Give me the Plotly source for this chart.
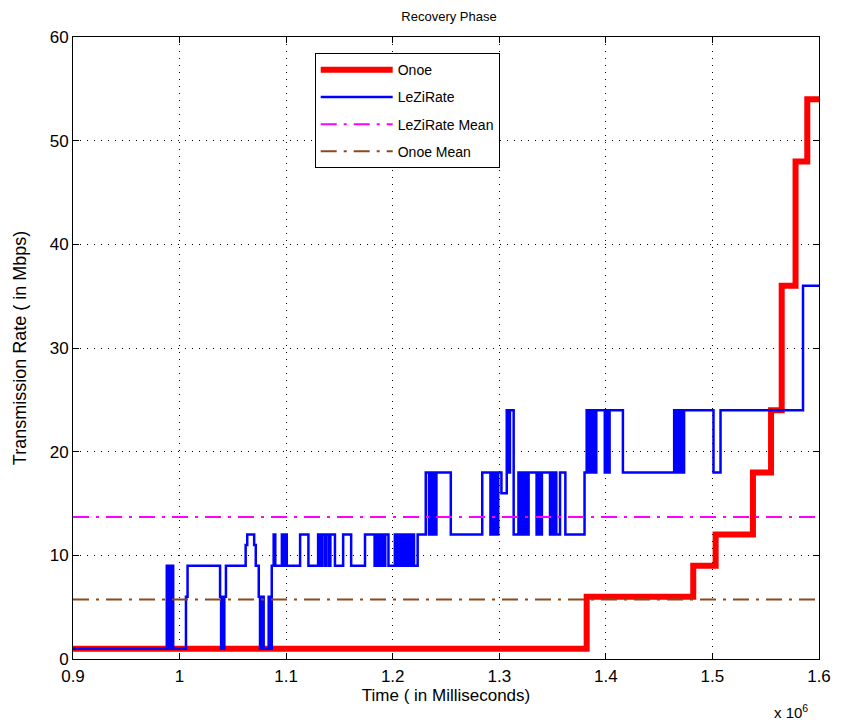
import plotly.graph_objects as go

# Time in units of 10^6 milliseconds
onoe_t = [0.900, 1.382, 1.482, 1.503, 1.538, 1.555, 1.565, 1.578, 1.589, 1.600]
onoe_v = [1, 6, 9, 12, 18, 24, 36, 48, 54, 54]

lezi_t = [0.900, 0.988, 0.990, 0.991, 0.992, 0.993, 0.994,
          1.006, 1.0075, 1.038, 1.0390, 1.0400, 1.0410, 1.0420, 1.0435, 1.045,
          1.062, 1.0635, 1.070, 1.0715, 1.0743, 1.0755, 1.0770, 1.0789, 1.0836,
          1.0850, 1.0865, 1.0883, 1.0898,
          1.0960, 1.0975, 1.0990, 1.1006, 1.1131, 1.1209, 1.1300, 1.1320, 1.1335,
          1.1360, 1.1375, 1.1400, 1.1415, 1.1458, 1.1535, 1.1610, 1.1740, 1.1830,
          1.1850, 1.1870, 1.1890, 1.1910, 1.1930, 1.1960, 1.2000, 1.2020, 1.2040,
          1.2060, 1.2080, 1.2100, 1.2120, 1.2140, 1.2160, 1.2180, 1.2200, 1.2234,
          1.2310, 1.2340, 1.2350, 1.2360, 1.2370, 1.2380, 1.2390, 1.2400, 1.2410,
          1.2545, 1.2840, 1.2917, 1.2930, 1.2945, 1.2960, 1.2975, 1.2990, 1.3020,
          1.3070, 1.3090, 1.3100, 1.3135, 1.3180, 1.3200, 1.3215, 1.3230, 1.3245,
          1.3260, 1.3275, 1.3350, 1.3365, 1.3380, 1.3400, 1.3476, 1.3490, 1.3505,
          1.3520, 1.3535, 1.3570, 1.3620, 1.3800, 1.3820, 1.3835, 1.3850, 1.3865,
          1.3880, 1.3895, 1.3910, 1.3990, 1.4005, 1.4020, 1.4035, 1.4160, 1.4641,
          1.4655, 1.4670, 1.4685, 1.4700, 1.4715, 1.4734, 1.5010, 1.5076, 1.5850,
          1.6000]
lezi_v = [1, 9, 1, 9, 1, 9, 1,
          6, 9, 6, 1, 6, 1, 6, 9, 9,
          11, 12, 11, 9, 6, 1, 6, 1, 6,
          1, 9, 12, 9,
          12, 9, 12, 9, 12, 9, 12, 9, 12,
          9, 12, 9, 12, 9, 12, 9, 12, 9,
          12, 9, 12, 9, 12, 9, 9, 12, 9,
          12, 9, 12, 9, 12, 9, 12, 9, 12,
          18, 12, 18, 12, 18, 12, 18, 12, 18,
          12, 18, 12, 18, 12, 18, 12, 18, 16,
          24, 18, 24, 12, 18, 12, 18, 12, 18,
          12, 18, 12, 18, 12, 18, 12, 18, 12,
          18, 12, 18, 12, 18, 24, 18, 24, 18,
          24, 18, 24, 18, 24, 18, 24, 18, 24,
          18, 24, 18, 24, 18, 24, 18, 24, 36,
          36]

lezi_mean = 13.7
onoe_mean = 5.75

x_ticks = [0.9, 1.0, 1.1, 1.2, 1.3, 1.4, 1.5, 1.6]
x_tick_text = ["0.9", "1", "1.1", "1.2", "1.3", "1.4", "1.5", "1.6"]
y_ticks = [0, 10, 20, 30, 40, 50, 60]

x_range = [0.9, 1.6]

fig = go.Figure()
fig.add_trace(go.Scatter(x=onoe_t, y=onoe_v, mode="lines", name="Onoe",
                         line=dict(color="#FF0000", width=6, shape="hv"),
                         legendgroup="a"))
fig.add_trace(go.Scatter(x=lezi_t, y=lezi_v, mode="lines", name="LeZiRate",
                         line=dict(color="#0000FF", width=2.5, shape="hv"),
                         legendgroup="b"))
fig.add_trace(go.Scatter(x=x_range, y=[lezi_mean, lezi_mean], mode="lines",
                         name="LeZiRate Mean",
                         line=dict(color="#FF00FF", width=2, dash="16px,7px,3px,7px"),
                         legendgroup="c"))
fig.add_trace(go.Scatter(x=x_range, y=[onoe_mean, onoe_mean], mode="lines",
                         name="Onoe Mean",
                         line=dict(color="#8C4A1C", width=2, dash="16px,7px,3px,7px"),
                         legendgroup="d"))

font_family = "Liberation Sans, Arial, sans-serif"

fig.update_layout(
    width=843, height=724,
    margin=dict(l=73, r=12, t=37, b=65),
    paper_bgcolor="white", plot_bgcolor="white",
    font=dict(family=font_family, size=16, color="black"),
    title=dict(text="Recovery Phase", x=449 / 843, xanchor="center",
               y=1 - 16 / 724, yanchor="middle", font=dict(size=13)),
    showlegend=True,
    legend=dict(x=0.324, y=0.974, xanchor="left", yanchor="top",
                bordercolor="black", borderwidth=1, bgcolor="white",
                font=dict(size=14), traceorder="grouped", tracegroupgap=6,
                itemwidth=72),
    annotations=[dict(text="x 10<sup>6</sup>", xref="paper", yref="paper",
                      x=0.963, y=-0.085, xanchor="center", yanchor="middle",
                      showarrow=False, font=dict(size=15))],
)

fig.update_xaxes(range=x_range, tickvals=x_ticks, ticktext=x_tick_text,
                 showline=True, linecolor="black", linewidth=1, mirror="ticks",
                 ticks="inside", ticklen=6, tickcolor="black",
                 showgrid=True, gridcolor="black", gridwidth=1, griddash="1px,6px",
                 zeroline=False, ticklabelstandoff=2,
                 tickfont=dict(size=17),
                 title=dict(text="Time ( in Milliseconds)", standoff=0,
                            font=dict(size=17)))
fig.update_yaxes(range=[0, 60], tickvals=y_ticks,
                 showline=True, linecolor="black", linewidth=1, mirror="ticks",
                 ticks="inside", ticklen=6, tickcolor="black",
                 showgrid=True, gridcolor="black", gridwidth=1, griddash="1px,6px",
                 zeroline=False,
                 tickfont=dict(size=17),
                 title=dict(text="Transmission Rate ( in Mbps)", standoff=18,
                            font=dict(size=18)))

fig.write_html("out.html")
